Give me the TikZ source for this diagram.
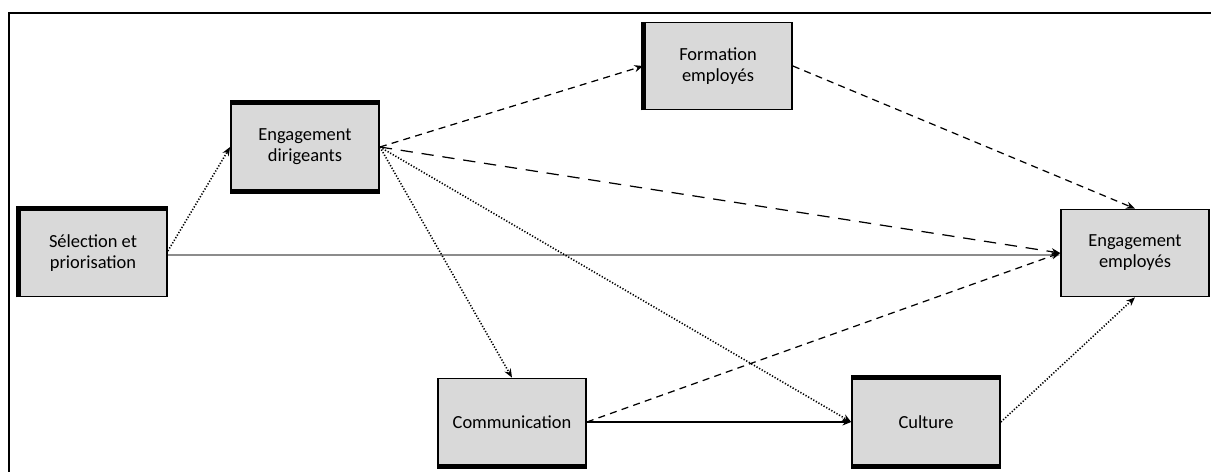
\documentclass[tikz,border=0pt]{standalone}
\usepackage{fontspec}
\setmainfont{Carlito}
\usetikzlibrary{arrows}
\usetikzlibrary{arrows.meta}
\usetikzlibrary{calc}

\tikzset{
  facteur/.style={draw=black,line width=1pt,fill=black!15,minimum width=2.96cm,minimum height=1.74cm,align=center,font=\fontsize{10.5}{12}\selectfont},
  lien/.style={-{Stealth[length=5pt,width=4pt]},line width=0.7pt},
  pointille/.style={lien,densely dotted,line width=0.9pt},
  tirets/.style={lien,dash pattern=on 4pt off 3pt},
  longtirets/.style={lien,dash pattern=on 7pt off 5pt}
}

\begin{document}
\begin{tikzpicture}[x=0.02cm,y=-0.02cm]
\useasboundingbox (0,0) rectangle (1211,472);
% cadre
\draw[line width=1.6pt] (9,472) -- (9,13) -- (1211,13);
% facteurs
\node[facteur] (sel) at (93,253) {S\'election et\\priorisation};
\node[facteur] (dir) at (305,147) {Engagement\\dirigeants};
\node[facteur] (form) at (718,66) {Formation\\employ\'es};
\node[facteur] (emp) at (1135,253) {Engagement\\employ\'es};
\node[facteur] (com) at (512,422) {Communication};
\node[facteur] (cul) at (926,422) {Culture};
% thick sides
\draw[line width=3pt] (sel.south west) -- (sel.north west) -- (sel.north east);
\draw[line width=3pt] (dir.north west) -- (dir.north east) (dir.south west) -- (dir.south east);
\draw[line width=3pt] (form.south west) -- (form.north west);
\draw[line width=3pt] (com.south west) -- (com.south east);
\draw[line width=3pt] (cul.north west) -- (cul.north east) (cul.south west) -- (cul.south east);
% liens
\draw[pointille] ($(sel.east)+(0,-2)$) -- (dir.west);
\draw[lien,black!45] ($(sel.east)+(0,2)$) -- ($(emp.west)+(0,2)$);
\draw[tirets] (dir.east) -- (form.west);
\draw[longtirets] (dir.east) -- (emp.west);
\draw[pointille] (dir.east) -- (cul.west);
\draw[pointille] (dir.east) -- (com.north);
\draw[tirets] (form.east) -- (emp.north);
\draw[tirets] (com.east) -- (emp.west);
\draw[lien] (com.east) -- (cul.west);
\draw[pointille] (cul.east) -- (emp.south);
\end{tikzpicture}
\end{document}
